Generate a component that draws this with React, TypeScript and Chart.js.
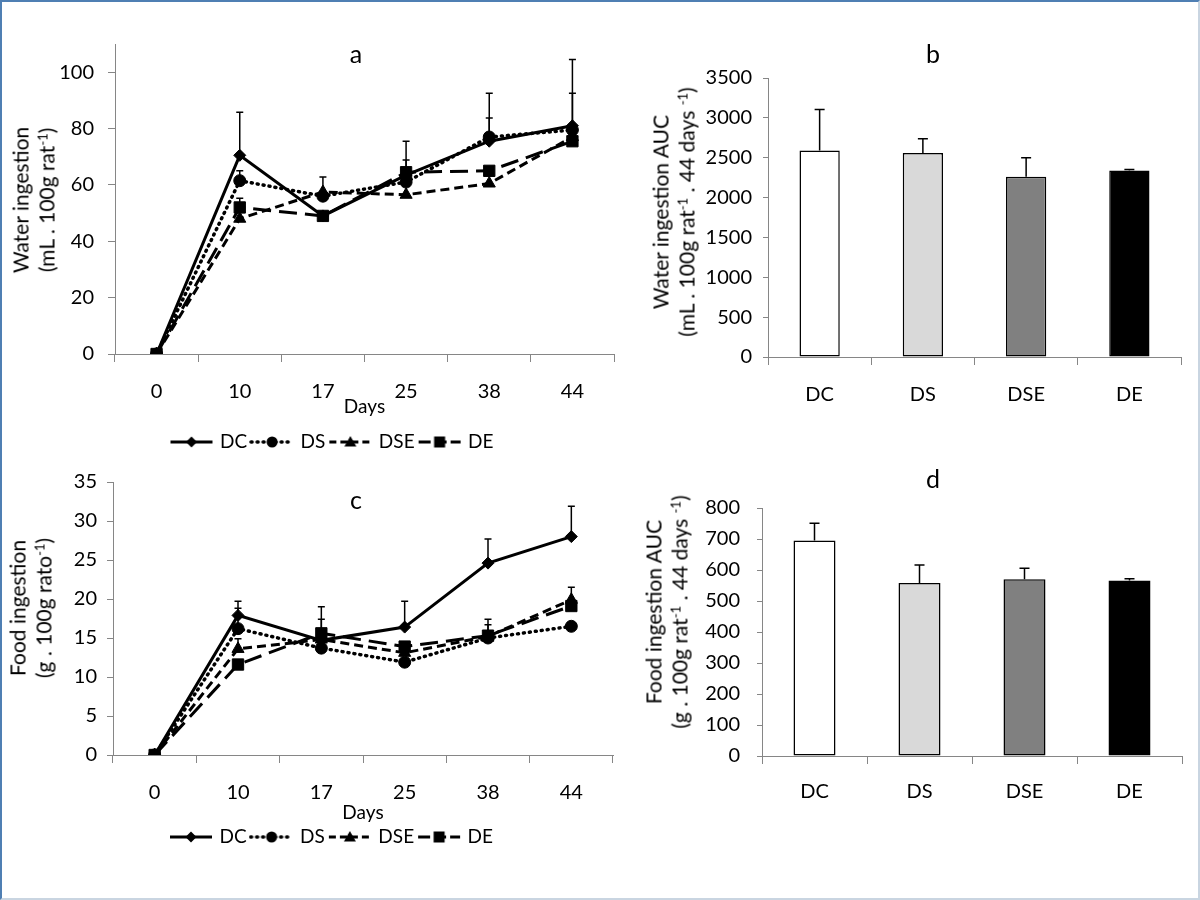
import React, { useEffect, useRef } from "react";
import { Chart, registerables } from "chart.js";

Chart.register(...registerables);

// ---------- data ----------
const days = ["0", "10", "17", "25", "38", "44"];
const groups = ["DC", "DS", "DSE", "DE"];

const waterDC = [0, 70.5, 49, 63.5, 75.5, 81];
const waterDS = [0, 61.5, 56, 61, 77, 79.5];
const waterDSE = [0, 48, 57.5, 56.5, 60.5, 77];
const waterDE = [0, 52, 49, 64.5, 65, 75.5];
const waterDCErr = [0, 15.3, 0, 12, 17, 23.5];
const waterDSErr = [0, 3.5, 6.8, 0, 6.7, 13];
const waterDSEErr = [0, 0, 0, 0, 0, 0];
const waterDEErr = [0, 3.3, 0, 4.3, 0, 0];

const foodDC = [0, 17.9, 14.7, 16.4, 24.6, 28];
const foodDS = [0, 16.2, 13.7, 11.9, 15, 16.5];
const foodDSE = [0, 13.6, 14.8, 13.1, 15.2, 19.9];
const foodDE = [0, 11.6, 15.6, 13.9, 15.3, 19.1];
const foodDCErr = [0, 1.8, 4.3, 3.3, 3.1, 3.9];
const foodDSErr = [0, 2.6, 0, 0, 0, 0];
const foodDSEErr = [0, 1.3, 0, 0, 1.5, 1.6];
const foodDEErr = [0, 0, 1.8, 0, 2.1, 0];

const waterAUC = [2590, 2560, 2260, 2340];
const waterAUCErr = [515, 178, 238, 12];
const foodAUC = [695, 558, 570, 566];
const foodAUCErr = [56, 58, 36, 6];

const barColors = ["#ffffff", "#d9d9d9", "#808080", "#000000"];

// ---------- styles ----------
const FONT = "Lato";
const AXIS = "#868686";

type SeriesStyle = { dash: number[]; legendDash: number[]; point: string; radius: number; cap: CanvasLineCap; width: number };
const seriesStyles: SeriesStyle[] = [
  { dash: [], legendDash: [], point: "rectRot", radius: 6, cap: "butt", width: 3 },
  { dash: [1, 5], legendDash: [1, 5], point: "circle", radius: 6, cap: "round", width: 3.5 },
  { dash: [9, 5], legendDash: [7, 4], point: "triangle", radius: 7, cap: "butt", width: 3 },
  { dash: [18, 8], legendDash: [12, 4], point: "rect", radius: 8, cap: "butt", width: 3 },
];

function drawMarker(g: CanvasRenderingContext2D, type: string, x: number, y: number) {
  g.beginPath();
  if (type === "rectRot") {
    g.moveTo(x - 5.5, y); g.lineTo(x, y - 5.5); g.lineTo(x + 5.5, y); g.lineTo(x, y + 5.5);
  } else if (type === "circle") {
    g.arc(x, y, 5.5, 0, Math.PI * 2);
  } else if (type === "triangle") {
    g.moveTo(x, y - 6); g.lineTo(x + 6, y + 4.5); g.lineTo(x - 6, y + 4.5);
  } else {
    g.rect(x - 5.5, y - 5.5, 11, 11);
  }
  g.closePath();
  g.fill();
}

function legendImage(s: SeriesStyle): HTMLCanvasElement {
  const c = document.createElement("canvas");
  c.width = 46; c.height = 16;
  const g = c.getContext("2d")!;
  g.strokeStyle = "#000"; g.fillStyle = "#000";
  g.lineWidth = s.width; g.lineCap = s.cap; g.setLineDash(s.legendDash);
  g.beginPath(); g.moveTo(2, 8); g.lineTo(44, 8); g.stroke();
  g.setLineDash([]);
  drawMarker(g, s.point, 23, 8);
  return c;
}

const errorBars = (capHalf: number, before: boolean) => {
  const draw = (chart: any) => {
    const ctx = chart.ctx;
    const ys = chart.scales.y;
    chart.data.datasets.forEach((ds: any, i: number) => {
      const errs = ds.errors as number[] | undefined;
      if (!errs) return;
      const meta = chart.getDatasetMeta(i);
      meta.data.forEach((el: any, j: number) => {
        const e = errs[j];
        if (!e) return;
        const v = ds.data[j] as number;
        const top = ys.getPixelForValue(v + e);
        ctx.save();
        ctx.strokeStyle = "#000";
        ctx.lineWidth = 1.5;
        ctx.setLineDash([]);
        ctx.beginPath();
        ctx.moveTo(el.x, el.y);
        ctx.lineTo(el.x, top);
        ctx.moveTo(el.x - capHalf, top);
        ctx.lineTo(el.x + capHalf, top);
        ctx.stroke();
        ctx.restore();
      });
    });
  };
  return before
    ? { id: "errorBarsBefore", beforeDatasetsDraw: draw }
    : { id: "errorBarsAfter", afterDatasetsDraw: draw };
};

type LineOpts = {
  series: number[][];
  errors: number[][];
  yMax: number;
  yShownMax: number;
  step: number;
  yWidth: number;
  yTick: number;
  yPad: number;
  xHeight: number;
  titlePadBottom: number;
  padding: { top: number; left: number; right: number; bottom: number };
};

function lineConfig(o: LineOpts): any {
  const imgs = seriesStyles.map(legendImage);
  return {
    type: "line",
    data: {
      labels: days,
      datasets: groups.map((g, i) => ({
        label: g,
        data: o.series[i],
        errors: o.errors[i],
        borderColor: "#000",
        backgroundColor: "#000",
        borderWidth: seriesStyles[i].width,
        borderDash: seriesStyles[i].dash,
        borderCapStyle: seriesStyles[i].cap,
        tension: 0,
        fill: false,
        pointStyle: seriesStyles[i].point,
        pointRadius: seriesStyles[i].radius,
        pointBackgroundColor: "#000",
        pointBorderColor: "#000",
        pointBorderWidth: 1,
      })),
    },
    options: {
      responsive: false,
      animation: false,
      layout: { padding: o.padding },
      plugins: {
        tooltip: { enabled: false },
        legend: {
          position: "bottom",
          labels: {
            usePointStyle: true,
            pointStyleWidth: 38,
            padding: 6,
            color: "#000",
            font: { family: FONT, size: 19 },
            generateLabels: (chart: any) =>
              chart.data.datasets.map((ds: any, i: number) => ({
                text: ds.label,
                pointStyle: imgs[i],
                fillStyle: "#000",
                strokeStyle: "#000",
                fontColor: "#000",
                lineWidth: 0,
                hidden: false,
                datasetIndex: i,
              })),
          },
        },
      },
      scales: {
        x: {
          type: "category",
          offset: true,
          grid: { offset: true, drawOnChartArea: false, tickLength: 8, color: AXIS },
          border: { color: AXIS, width: 1 },
          ticks: { font: { family: FONT, size: 20 }, color: "#000", padding: 18, maxRotation: 0 },
          title: {
            display: true,
            text: "Days",
            color: "#000",
            font: { family: FONT, size: 19 },
            padding: { top: 0, bottom: o.titlePadBottom },
          },
          afterFit: (s: any) => { s.height = o.xHeight; },
        },
        y: {
          min: 0,
          max: o.yMax,
          grid: { drawOnChartArea: false, tickLength: o.yTick, color: AXIS },
          border: { color: AXIS, width: 1 },
          ticks: { stepSize: o.step, font: { family: FONT, size: 20 }, color: "#000", padding: o.yPad },
          afterBuildTicks: (s: any) => { s.ticks = s.ticks.filter((t: any) => t.value <= o.yShownMax); },
          afterFit: (s: any) => { s.width = o.yWidth; },
        },
      },
    },
    plugins: [errorBars(3.5, true)],
  };
}

type BarOpts = {
  values: number[];
  errors: number[];
  yMax: number;
  step: number;
  yWidth: number;
  yPad: number;
  xPad: number;
  barPct: number;
  padding: { top: number; left: number; right: number; bottom: number };
};

function barConfig(o: BarOpts): any {
  return {
    type: "bar",
    data: {
      labels: groups,
      datasets: [
        {
          data: o.values,
          errors: o.errors,
          backgroundColor: barColors,
          borderColor: "#000",
          borderWidth: 1.5,
          borderSkipped: false,
          barPercentage: o.barPct,
          categoryPercentage: 1,
        },
      ],
    },
    options: {
      responsive: false,
      animation: false,
      layout: { padding: o.padding },
      plugins: { legend: { display: false }, tooltip: { enabled: false } },
      scales: {
        x: {
          grid: { offset: true, drawOnChartArea: false, tickLength: 8, color: AXIS },
          border: { color: AXIS, width: 1 },
          ticks: { font: { family: FONT, size: 20 }, color: "#000", padding: o.xPad },
          afterFit: (s: any) => { s.height = 60; },
        },
        y: {
          min: 0,
          max: o.yMax,
          grid: { drawOnChartArea: false, tickLength: 5, color: AXIS },
          border: { color: AXIS, width: 1 },
          ticks: {
            stepSize: o.step,
            font: { family: FONT, size: 20 },
            color: "#000",
            padding: o.yPad,
            callback: (v: any) => String(v),
          },
          afterFit: (s: any) => { s.width = o.yWidth; },
        },
      },
    },
    plugins: [errorBars(5, false)],
  };
}

const sup = (t: string) => (
  <span style={{ fontSize: "13px", position: "relative", top: "-7px" }}>{t}</span>
);

function YTitle(props: { cx: number; cy: number; l1: React.ReactNode; l2: React.ReactNode }) {
  return (
    <div
      style={{
        position: "absolute",
        left: props.cx,
        top: props.cy,
        transform: "translate(-50%, -50%) rotate(-90deg)",
        whiteSpace: "nowrap",
        textAlign: "center",
        fontFamily: FONT,
        fontSize: "21px",
        lineHeight: "26px",
        color: "#000",
      }}
    >
      <div>{props.l1}</div>
      <div>{props.l2}</div>
    </div>
  );
}

function PanelTitle(props: { cx: number; cy: number; t: string }) {
  return (
    <div
      style={{
        position: "absolute",
        left: props.cx,
        top: props.cy,
        transform: "translate(-50%, -50%)",
        fontFamily: FONT,
        fontSize: "25px",
        lineHeight: "25px",
        color: "#000",
      }}
    >
      {props.t}
    </div>
  );
}

export default function App() {
  const aRef = useRef<HTMLCanvasElement>(null);
  const bRef = useRef<HTMLCanvasElement>(null);
  const cRef = useRef<HTMLCanvasElement>(null);
  const dRef = useRef<HTMLCanvasElement>(null);

  useEffect(() => {
    document.body.style.margin = "0";
    const charts: Chart[] = [];
    charts.push(
      new Chart(
        aRef.current!,
        lineConfig({
          series: [waterDC, waterDS, waterDSE, waterDE],
          errors: [waterDCErr, waterDSErr, waterDSEErr, waterDEErr],
          yMax: 110,
          yShownMax: 100,
          step: 20,
          yWidth: 63,
          yTick: 7,
          yPad: 14,
          xHeight: 72.5,
          titlePadBottom: 8,
          padding: { top: 44, left: 52, right: 58, bottom: 8.5 },
        })
      )
    );
    charts.push(
      new Chart(
        cRef.current!,
        lineConfig({
          series: [foodDC, foodDS, foodDSE, foodDE],
          errors: [foodDCErr, foodDSErr, foodDSEErr, foodDEErr],
          yMax: 35,
          yShownMax: 35,
          step: 5,
          yWidth: 61,
          yTick: 6,
          yPad: 10,
          xHeight: 66.5,
          titlePadBottom: -3,
          padding: { top: 7, left: 52, right: 59, bottom: 3.5 },
        })
      )
    );
    charts.push(
      new Chart(
        bRef.current!,
        barConfig({
          values: waterAUC,
          errors: waterAUCErr,
          yMax: 3500,
          step: 500,
          yWidth: 128,
          yPad: 11,
          xPad: 18,
          barPct: 0.39,
          padding: { top: 78, left: 0, right: 19, bottom: 13 },
        })
      )
    );
    charts.push(
      new Chart(
        dRef.current!,
        barConfig({
          values: foodAUC,
          errors: foodAUCErr,
          yMax: 800,
          step: 100,
          yWidth: 122,
          yPad: 17,
          xPad: 16,
          barPct: 0.4,
          padding: { top: 48, left: 0, right: 18, bottom: 44 },
        })
      )
    );
    return () => charts.forEach((c) => c.destroy());
  }, []);

  const abs = (l: number, t: number): React.CSSProperties => ({ position: "absolute", left: l, top: t });

  return (
    <div
      style={{
        position: "fixed",
        left: 0,
        top: 0,
        width: 1200,
        height: 900,
        background: "#fff",
        boxSizing: "border-box",
        borderLeft: "2px solid #4f7fb3",
        borderTop: "2px solid #4f7fb3",
        borderRight: "2px solid #c9d5e1",
        borderBottom: "2px solid #c9d5e1",
        overflow: "hidden",
      }}
    >
      <div style={{ position: "absolute", left: -2, top: -2, width: 1200, height: 900 }}>
        <canvas ref={aRef} width={672} height={470} style={abs(0, 0)} />
        <canvas ref={bRef} width={560} height={430} style={abs(640, 0)} />
        <canvas ref={cRef} width={672} height={400} style={abs(0, 460)} />
        <canvas ref={dRef} width={560} height={400} style={abs(640, 460)} />

        <PanelTitle cx={356} cy={53} t="a" />
        <PanelTitle cx={933} cy={53} t="b" />
        <PanelTitle cx={356} cy={499} t="c" />
        <PanelTitle cx={933} cy={478} t="d" />

        <YTitle cx={34.5} cy={200} l1="Water ingestion" l2={<>(mL . 100g rat{sup("-1")})</>} />
        <YTitle cx={674.5} cy={212} l1="Water ingestion AUC" l2={<>(mL . 100g rat{sup("-1")} . 44 days {sup("-1")})</>} />
        <YTitle cx={32} cy={608} l1="Food ingestion" l2={<>(g . 100g rato{sup("-1")})</>} />
        <YTitle cx={667.5} cy={612} l1="Food ingestion AUC" l2={<>(g . 100g rat{sup("-1")} . 44 days {sup("-1")})</>} />
      </div>
    </div>
  );
}
